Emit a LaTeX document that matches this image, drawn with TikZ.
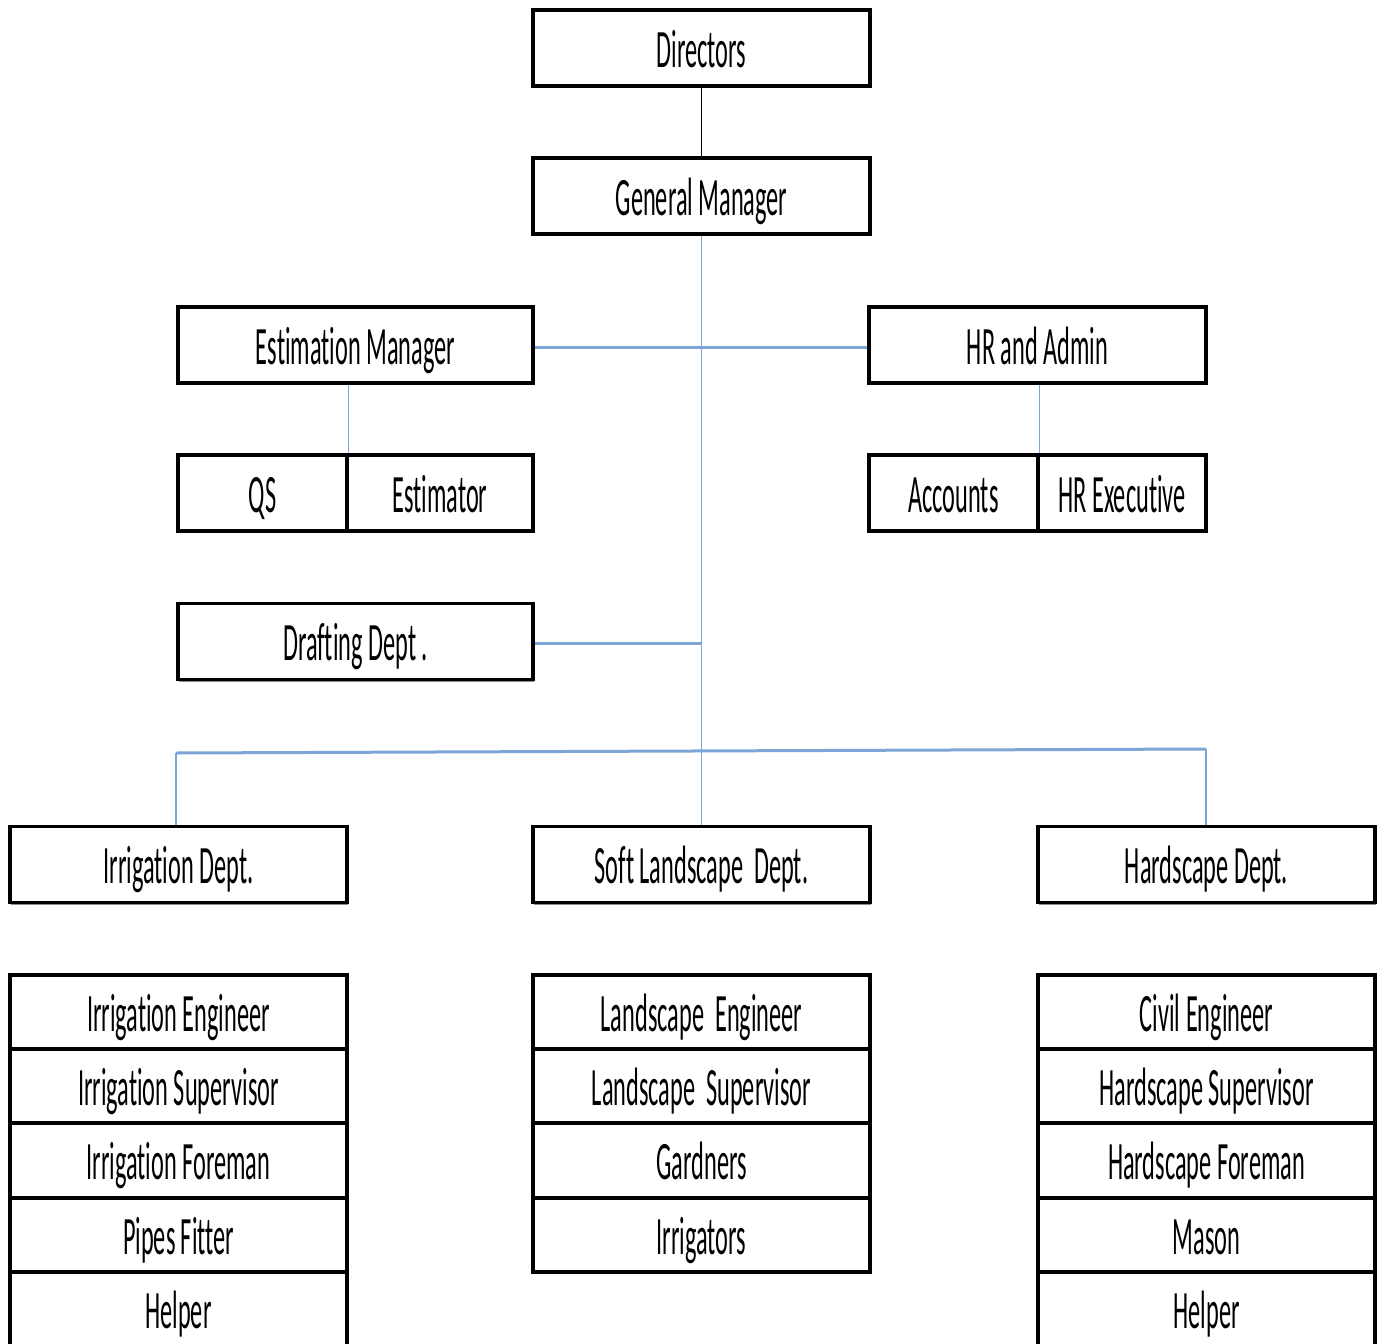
\documentclass[tikz,border=0pt]{standalone}
\usepackage{fontspec}
\usetikzlibrary{shadows}
\setmainfont{Carlito}[FakeStretch=0.45, Ligatures={NoCommon}]
\definecolor{lineblue}{RGB}{125,165,215}
\begin{document}
\begin{tikzpicture}[x=1pt,y=-1pt,
  box/.style={draw=black, line width=3.2pt, fill=white, minimum width=337pt, minimum height=76pt, inner sep=0pt,
    text height=38pt, text depth=0pt,
    drop shadow={shadow xshift=0.5pt, shadow yshift=-2pt, opacity=0.45, fill=black},
    font=\fontsize{54}{58}\selectfont},
  row/.style={box, minimum height=74pt},
  bl/.style={draw=lineblue, line width=1.5pt},
  blt/.style={bl, line width=3pt}]
\useasboundingbox (0,0) rectangle (1377,1344);
\fill[white] (0,0) rectangle (1377,1344);
\coordinate (busL) at (176,753);
\coordinate (busR) at (1206,749);
% nodes
\node[box] (dir) at (701.5,48) {Directors};
\node[box] (gm) at (701.5,196) {General Manager};
\node[box, minimum width=355pt] (est) at (355.5,345) {Estimation Manager};
\node[box] (hr) at (1037.5,345) {HR and Admin};
\node[box, minimum width=169pt] (qs) at (262.5,493) {QS};
\node[box, minimum width=186pt] (esti) at (440,493) {Estimator};
\node[box, minimum width=169pt] (acc) at (953.5,493) {Accounts};
\node[box, minimum width=168pt] (hre) at (1122,493) {HR Executive};
\node[box, minimum width=355pt] (draft) at (355.5,641.5) {Drafting Dept .};
\node[box] (irr) at (178.5,864.5) {Irrigation Dept.};
\node[box] (soft) at (701.5,864.5) {Soft Landscape\ \ Dept.};
\node[box] (hard) at (1206.5,864.5) {Hardscape Dept.};
% irrigation stack
\node[row] (i1) at (178.5,1012) {Irrigation Engineer};
\node[row] (i2) at (178.5,1086) {Irrigation Supervisor};
\node[row] (i3) at (178.5,1160.5) {Irrigation Foreman};
\node[row] (i4) at (178.5,1235) {Pipes Fitter};
\node[row] (i5) at (178.5,1309) {Helper};
% soft stack
\node[row] (s1) at (701.5,1012) {Landscape\ \ Engineer};
\node[row] (s2) at (701.5,1086) {Landscape\ \ Supervisor};
\node[row] (s3) at (701.5,1160.5) {Gardners};
\node[row] (s4) at (701.5,1235) {Irrigators};
% hard stack
\node[row] (h1) at (1206.5,1012) {Civil Engineer};
\node[row] (h2) at (1206.5,1086) {Hardscape Supervisor};
\node[row] (h3) at (1206.5,1160.5) {Hardscape Foreman};
\node[row] (h4) at (1206.5,1235) {Mason};
\node[row] (h5) at (1206.5,1309) {Helper};
% connectors
\draw[line width=1.3pt] (dir.south) -- (gm.north);
\draw[bl] (gm.south) -- (soft.north);
\draw[blt] ([yshift=-2pt]est.east) -- ([yshift=-2pt]hr.west);
\draw[bl] (est.south -| qs.north east) -- (qs.north east);
\draw[bl] (hr.south -| acc.north east) -- (acc.north east);
\draw[blt] ([yshift=-1.5pt]draft.east) -- ([yshift=-1.5pt]draft.east -| gm.south);
\draw[blt] (busL) -- (busR);
\draw[bl] (busL) -- (busL |- irr.north);
\draw[bl] (busR) -- (busR |- hard.north);
\end{tikzpicture}
\end{document}
